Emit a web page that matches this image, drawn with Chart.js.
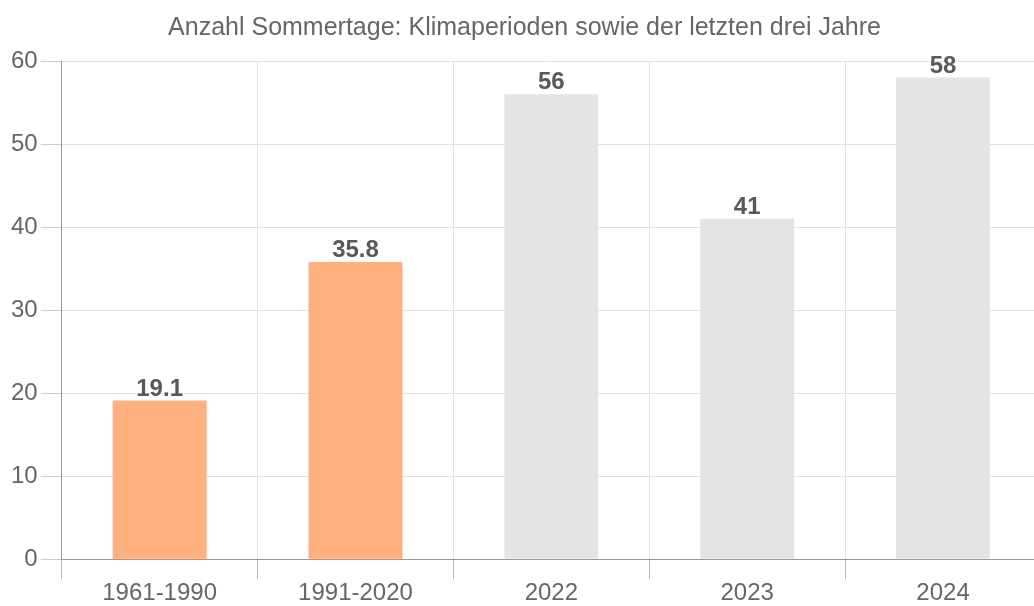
<!DOCTYPE html>
<html lang="de">
<head>
    <meta charset="UTF-8">
    <title>Anzahl Sommertage</title>
    <script src="https://cdn.jsdelivr.net/npm/chart.js"></script>
    <style>
        body { margin: 0; overflow: hidden; background: #fff; }
        .chart-box { width: 1046px; height: 608px; }
    </style>
</head>
<body>
    <div class="chart-box">
        <canvas id="sommerChart" width="1046" height="608"></canvas>
    </div>
    <script>
        const periods = ['1961-1990', '1991-2020', '2022', '2023', '2024'];
        const sommertage = [19.1, 35.8, 56, 41, 58];
        const barColors = ['#ffb07f', '#ffb07f', '#e4e4e4', '#e4e4e4', '#e4e4e4'];
        const yTicks = [0, 10, 20, 30, 40, 50, 60];

        // Werte über den Balken
        const valueLabels = {
            id: 'valueLabels',
            afterDatasetsDraw(chart) {
                const ctx = chart.ctx;
                ctx.save();
                ctx.font = 'bold 24px "Liberation Sans", Arial, sans-serif';
                ctx.fillStyle = '#595959';
                ctx.textAlign = 'center';
                ctx.textBaseline = 'alphabetic';
                chart.getDatasetMeta(0).data.forEach((bar, i) => {
                    ctx.fillText(String(sommertage[i]), bar.x, bar.y - 5);
                });
                ctx.restore();
            }
        };

        Chart.defaults.font.family = '"Liberation Sans", Arial, sans-serif';
        Chart.defaults.color = '#666';

        new Chart(document.getElementById('sommerChart'), {
            type: 'bar',
            data: {
                labels: periods,
                datasets: [{
                    data: sommertage,
                    backgroundColor: barColors,
                    categoryPercentage: 0.96,
                    barPercentage: 0.5
                }]
            },
            options: {
                responsive: false,
                animation: false,
                layout: { padding: { left: 8, right: 5, top: 0, bottom: 0 } },
                plugins: {
                    legend: { display: false },
                    tooltip: { enabled: false },
                    title: {
                        display: true,
                        text: 'Anzahl Sommertage: Klimaperioden sowie der letzten drei Jahre',
                        font: { size: 25, weight: 'normal' },
                        color: '#666',
                        padding: { top: 13, bottom: 18 }
                    }
                },
                scales: {
                    x: {
                        grid: { color: '#e2e2e2', tickLength: 20, tickColor: '#bbb' },
                        border: { color: '#999' },
                        ticks: { font: { size: 24 }, color: '#666', padding: 0 }
                    },
                    y: {
                        min: yTicks[0],
                        max: yTicks[yTicks.length - 1],
                        afterBuildTicks(axis) {
                            axis.ticks = yTicks.map(v => ({ value: v }));
                        },
                        grid: { color: '#e2e2e2', tickLength: 21, tickColor: '#ccc' },
                        border: { color: '#999' },
                        ticks: { font: { size: 24 }, color: '#666', padding: 3 }
                    }
                }
            },
            plugins: [valueLabels]
        });
    </script>
</body>
</html>
